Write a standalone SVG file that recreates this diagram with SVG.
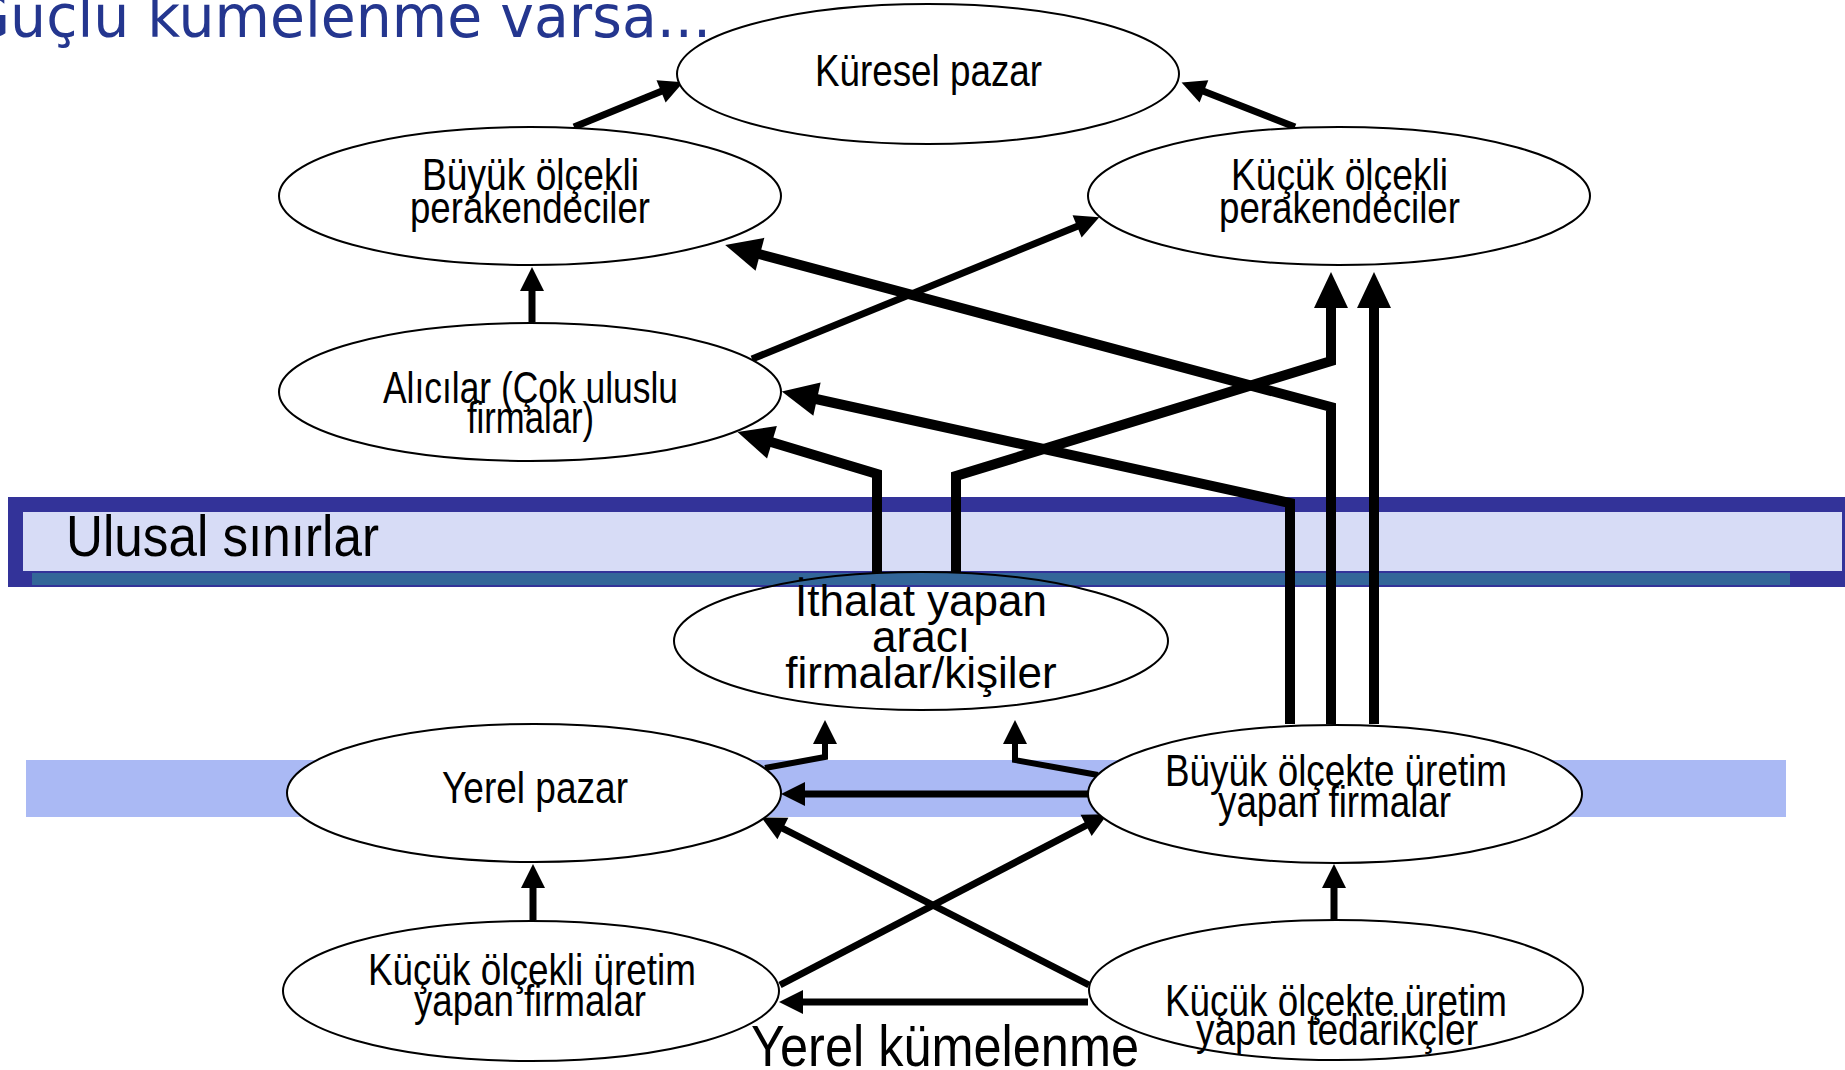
<svg xmlns="http://www.w3.org/2000/svg" xmlns:xlink="http://www.w3.org/1999/xlink" width="1845" height="1070" viewBox="0 0 1845 1070">
  <style>
    .node { fill: #ffffff; stroke: #000000; stroke-width: 2; }
    .outline { fill: none; stroke: #000000; stroke-width: 2; }
    .lbl { font-family: "Liberation Sans Narrow", "Liberation Sans", Arial, sans-serif; font-size: 45px; fill: #000000; }
    .lbl-wide { font-family: "Liberation Sans", Arial, sans-serif; font-size: 44px; fill: #000000; text-anchor: middle; }
    .band-lbl { font-family: "Liberation Sans Narrow", "Liberation Sans", Arial, sans-serif; font-size: 57px; fill: #000000; }
    .title { font-family: "DejaVu Sans", Verdana, sans-serif; font-size: 58px; fill: #24368f; }
    .mid { fill: none; stroke: #000000; stroke-width: 7; marker-end: url(#ah-m); }
    .thin { fill: none; stroke: #000000; stroke-width: 6; marker-end: url(#ah-m); }
    .thick { fill: none; stroke: #000000; stroke-width: 10; marker-end: url(#ah-l); }
  </style>
  <defs>
    <marker id="ah-m" markerUnits="userSpaceOnUse" markerWidth="24" markerHeight="24" refX="1" refY="12" orient="auto" overflow="visible">
      <path d="M0,0 L24,12 L0,24 z" fill="#000000"/>
    </marker>
    <marker id="ah-l" markerUnits="userSpaceOnUse" markerWidth="36" markerHeight="34" refX="1" refY="17" orient="auto" overflow="visible">
      <path d="M0,0 L36,17 L0,34 z" fill="#000000"/>
    </marker>
    <clipPath id="clip-ithalat">
      <ellipse cx="921" cy="641" rx="247" ry="69"/>
    </clipPath>
  </defs>

  <!-- title -->
  <text class="title" x="-34" y="37" textLength="745" lengthAdjust="spacingAndGlyphs">Güçlü kümelenme varsa...</text>

  <!-- local cluster band -->
  <g id="yerel-band">
    <rect x="26" y="760" width="1760" height="57" fill="#aab9f4"/>
  </g>

  <!-- national border band -->
  <g id="ulusal-band">
    <g id="ulusal-bars">
      <rect x="8" y="497" width="1837" height="90" fill="#333399"/>
      <rect x="23" y="512" width="1819" height="59" fill="#d7dcf6"/>
      <rect x="32" y="573" width="1758" height="12" fill="#336699"/>
    </g>
    <text class="band-lbl" x="66" y="556" textLength="313" lengthAdjust="spacingAndGlyphs">Ulusal sınırlar</text>
  </g>

  <!-- connectors -->
  <g id="connectors" stroke-linejoin="miter">
    <path class="mid" d="M574,127 L662,91"/>
    <path class="mid" d="M1295,127 L1203,91"/>
    <path class="mid" d="M532,322 V290"/>
    <path class="mid" d="M752,359 L1078,226"/>
    <path class="thick" d="M1331,724 V407 L759,254"/>
    <path class="thick" d="M1290,724 V503 L816,399"/>
    <path class="thick" d="M1374,724 V307"/>
    <path class="thick" d="M877,573 V474 L771,442"/>
    <path class="thick" d="M956,573 V476 L1331,361 V307"/>
    <path class="thin" d="M765,768 L825,757 V743"/>
    <path class="thin" d="M1098,775 L1015,760 V743"/>
    <path class="mid" d="M1088,794 H804"/>
    <path class="mid" d="M780,985 L1087,825"/>
    <path class="mid" d="M1089,985 L782,828"/>
    <path class="mid" d="M1088,1002 H802"/>
    <path class="mid" d="M533,920 V887"/>
    <path class="mid" d="M1334,921 V887"/>
  </g>

  <!-- nodes -->
  <g id="kuresel-pazar">
    <ellipse class="node" cx="928" cy="74" rx="251" ry="70"/>
    <text class="lbl" x="815" y="86" textLength="227" lengthAdjust="spacingAndGlyphs">Küresel pazar</text>
  </g>

  <g id="buyuk-perakendeciler">
    <ellipse class="node" cx="530" cy="196" rx="251" ry="69"/>
    <text class="lbl" x="422" y="190" textLength="217" lengthAdjust="spacingAndGlyphs">Büyük ölçekli</text>
    <text class="lbl" x="410" y="223" textLength="240" lengthAdjust="spacingAndGlyphs">perakendeciler</text>
  </g>

  <g id="kucuk-perakendeciler">
    <ellipse class="node" cx="1339" cy="196" rx="251" ry="69"/>
    <text class="lbl" x="1231" y="190" textLength="217" lengthAdjust="spacingAndGlyphs">Küçük ölçekli</text>
    <text class="lbl" x="1219" y="223" textLength="241" lengthAdjust="spacingAndGlyphs">perakendeciler</text>
  </g>

  <g id="alicilar">
    <ellipse class="node" cx="530" cy="392" rx="251" ry="69"/>
    <text class="lbl" x="383" y="403" textLength="295" lengthAdjust="spacingAndGlyphs">Alıcılar (Çok uluslu</text>
    <text class="lbl" x="467" y="433" textLength="127" lengthAdjust="spacingAndGlyphs">firmalar)</text>
  </g>

  <g id="ithalat">
    <ellipse cx="921" cy="641" rx="247" ry="69" fill="#ffffff"/>
    <use xlink:href="#ulusal-bars" href="#ulusal-bars" clip-path="url(#clip-ithalat)"/>
    <ellipse class="outline" cx="921" cy="641" rx="247" ry="69"/>
    <text class="lbl-wide" x="921" y="616">İthalat yapan</text>
    <text class="lbl-wide" x="921" y="652">aracı</text>
    <text class="lbl-wide" x="921" y="688">firmalar/kişiler</text>
  </g>

  <g id="yerel-pazar">
    <ellipse class="node" cx="534" cy="793" rx="247" ry="69"/>
    <text class="lbl" x="442" y="803" textLength="186" lengthAdjust="spacingAndGlyphs">Yerel pazar</text>
  </g>

  <g id="buyuk-uretim">
    <ellipse class="node" cx="1335" cy="794" rx="247" ry="69"/>
    <text class="lbl" x="1165" y="786" textLength="342" lengthAdjust="spacingAndGlyphs">Büyük ölçekte üretim</text>
    <text class="lbl" x="1218" y="817" textLength="233" lengthAdjust="spacingAndGlyphs">yapan firmalar</text>
  </g>

  <g id="kucuk-uretim">
    <ellipse class="node" cx="531" cy="991" rx="248" ry="70"/>
    <text class="lbl" x="368" y="985" textLength="328" lengthAdjust="spacingAndGlyphs">Küçük ölçekli üretim</text>
    <text class="lbl" x="414" y="1016" textLength="232" lengthAdjust="spacingAndGlyphs">yapan firmalar</text>
  </g>

  <g id="tedarikciler">
    <ellipse class="node" cx="1336" cy="990" rx="247" ry="70"/>
    <text class="lbl" x="1165" y="1016" textLength="342" lengthAdjust="spacingAndGlyphs">Küçük ölçekte üretim</text>
    <text class="lbl" x="1196" y="1045" textLength="282" lengthAdjust="spacingAndGlyphs">yapan tedarikçler</text>
  </g>

  <!-- cluster caption -->
  <text class="band-lbl" x="751" y="1066" textLength="388" lengthAdjust="spacingAndGlyphs">Yerel kümelenme</text>
</svg>
